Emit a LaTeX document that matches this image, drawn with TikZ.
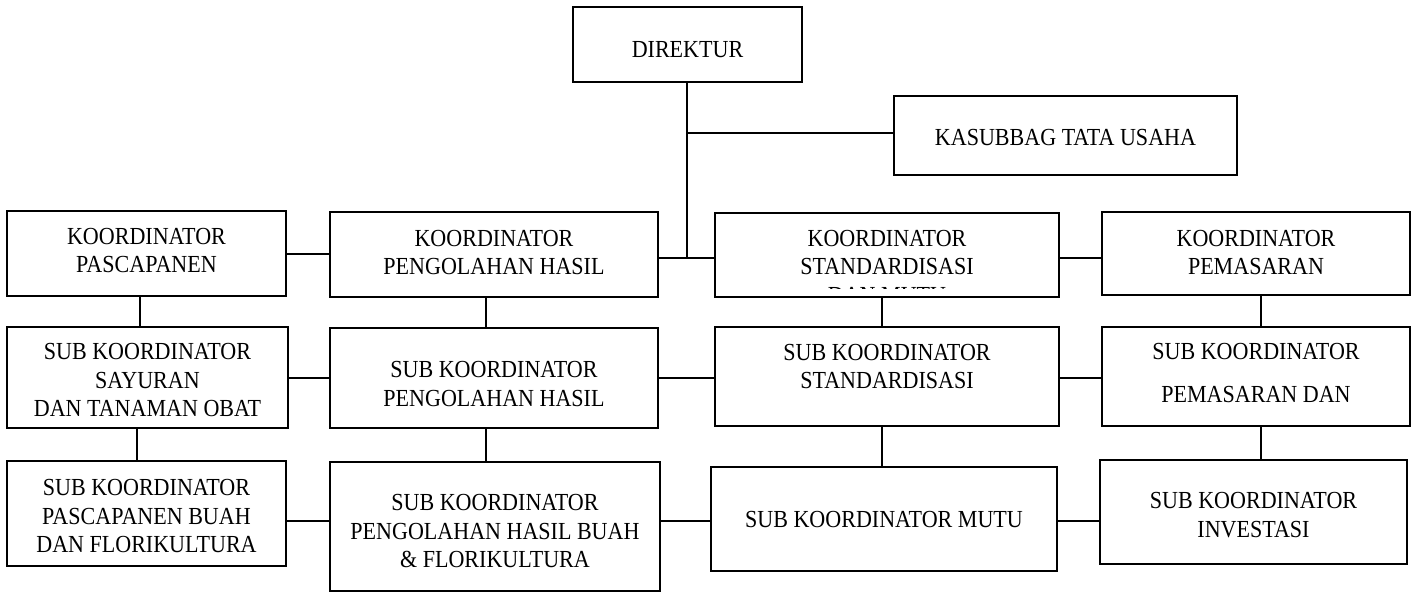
\documentclass[tikz,border=0pt]{standalone}
\usepackage{fontspec}
\setmainfont{Liberation Serif}[FakeStretch=0.9]
\tikzset{
  box/.style={draw=black, line width=2pt, inner sep=0pt, outer sep=0pt, fill=white},
  txt/.style={inner sep=0pt, align=center, font=\fontsize{24.5pt}{28.5pt}\selectfont},
  conn/.style={draw=black, line width=1.7pt}
}
% name, left, top, right, bottom, text offset (px, downwards), text
\newcommand\orgbox[7]{%
  \node[box, minimum width={#4-#2}, minimum height={#5-#3}] (#1) at ({(#2+#4)/2},{(#3+#5)/2}) {};
  \node[txt] (#1t) at ([yshift={-(#6)}]#1.center) {#7};
}
\begin{document}
\begin{tikzpicture}[x=1pt, y=-1pt]
\fill[white] (0,0) rectangle (1416,592);
\useasboundingbox (0,0) rectangle (1416,592);

% junctions and connector rows / columns
\coordinate (jk) at (687,133);
\coordinate (jm) at (687,258);
\coordinate (r1) at (0,254);
\coordinate (r2) at (0,378);
\coordinate (r3) at (0,521);
\coordinate (c1) at (140,0);
\coordinate (c1b) at (137,0);
\coordinate (c2) at (486,0);
\coordinate (c3) at (882,0);
\coordinate (c4) at (1261,0);

% boxes
\orgbox{dir}{573}{7}{802}{82}{5.5}{DIREKTUR}
\orgbox{kas}{894}{96}{1237}{175}{2.5}{KASUBBAG TATA USAHA}
\orgbox{kp}{7}{211}{286}{296}{-3}{KOORDINATOR\\PASCAPANEN}
\orgbox{kph}{330}{212}{658}{297}{-2}{KOORDINATOR\\PENGOLAHAN HASIL}
\node[box, draw=none, minimum width=344, minimum height=84] (ksm) at (887,255) {};
\begin{scope}
  \clip (715,213) rectangle (1059,288.5);
  \node[txt] (ksmt) at ([yshift=-12]ksm.center) {KOORDINATOR\\STANDARDISASI\\DAN MUTU};
\end{scope}
\draw[line width=2pt] (ksm.north west) rectangle (ksm.south east);
\orgbox{kpm}{1102}{212}{1410}{295}{-1}{KOORDINATOR\\PEMASARAN}
\orgbox{ss}{7}{327}{288}{428}{3}{SUB KOORDINATOR\\SAYURAN\\DAN TANAMAN OBAT}
\orgbox{sph}{330}{328}{658}{428}{6}{SUB KOORDINATOR\\PENGOLAHAN HASIL}
\orgbox{sst}{715}{327}{1059}{426}{-10}{SUB KOORDINATOR\\STANDARDISASI}
\orgbox{spm}{1102}{327}{1410}{426}{-3}{SUB KOORDINATOR\\[14.5pt]PEMASARAN DAN}
\orgbox{spb}{7}{461}{286}{566}{2.5}{SUB KOORDINATOR\\PASCAPANEN BUAH\\DAN FLORIKULTURA}
\orgbox{sphb}{330}{462}{660}{591}{4.5}{SUB KOORDINATOR\\PENGOLAHAN HASIL BUAH\\\& FLORIKULTURA}
\orgbox{smu}{711}{467}{1057}{571}{1}{SUB KOORDINATOR MUTU}
\orgbox{sin}{1100}{460}{1407}{564}{3}{SUB KOORDINATOR\\INVESTASI}

% connectors from the director
\draw[conn] (dir.south -| jm) -- (jm);
\draw[conn] (jk) -- (kas.west |- jk);

% horizontal connectors
\draw[conn] (kph.east |- jm) -- (ksm.west |- jm);
\draw[conn] (ksm.east |- jm) -- (kpm.west |- jm);
\draw[conn] (kp.east |- r1) -- (kph.west |- r1);
\draw[conn] (ss.east |- r2) -- (sph.west |- r2);
\draw[conn] (sph.east |- r2) -- (sst.west |- r2);
\draw[conn] (sst.east |- r2) -- (spm.west |- r2);
\draw[conn] (spb.east |- r3) -- (sphb.west |- r3);
\draw[conn] (sphb.east |- r3) -- (smu.west |- r3);
\draw[conn] (smu.east |- r3) -- (sin.west |- r3);

% vertical connectors
\draw[conn] (kp.south -| c1) -- (ss.north -| c1);
\draw[conn] (ss.south -| c1b) -- (spb.north -| c1b);
\draw[conn] (kph.south -| c2) -- (sph.north -| c2);
\draw[conn] (sph.south -| c2) -- (sphb.north -| c2);
\draw[conn] (ksm.south -| c3) -- (sst.north -| c3);
\draw[conn] (sst.south -| c3) -- (smu.north -| c3);
\draw[conn] (kpm.south -| c4) -- (spm.north -| c4);
\draw[conn] (spm.south -| c4) -- (sin.north -| c4);
\end{tikzpicture}
\end{document}
